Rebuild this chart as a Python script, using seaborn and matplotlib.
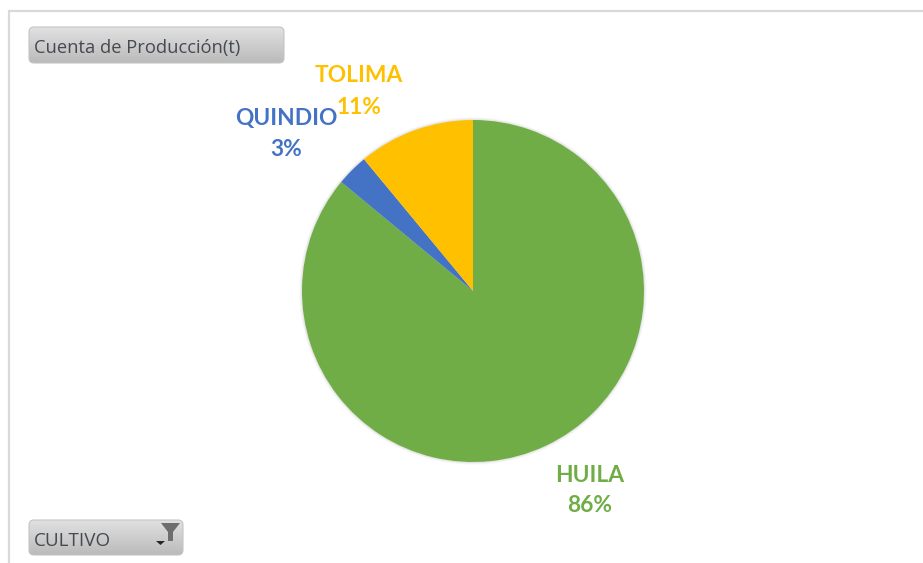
import numpy as np
import matplotlib
matplotlib.use("Agg")
import matplotlib.pyplot as plt
from matplotlib.patches import FancyBboxPatch, Polygon, Circle
import seaborn as sns

departments = ["HUILA", "QUINDIO", "TOLIMA"]
shares = [86, 3, 11]
slice_colors = ["#70AD47", "#4472C4", "#FFC000"]
field_button = "Cuenta de Producción(t)"
filter_button = "CULTIVO"

W, H = 923, 563
sns.set_theme(style="white")
plt.rcParams["font.family"] = ["Lato", "DejaVu Sans"]

fig = plt.figure(figsize=(W / 100, H / 100), dpi=100, facecolor="white")

# Overlay in pixel units for the frame and the pivot field buttons
ui = fig.add_axes([0, 0, 1, 1], zorder=3)
ui.set_xlim(0, W)
ui.set_ylim(H, 0)
ui.axis("off")
ui.plot([9, 9, W], [H, 11, 11], color="#D9D9D9", lw=1.6, solid_joinstyle="miter")


def button(x0, y0, x1, y1, label, size):
    box = FancyBboxPatch((x0, y0), x1 - x0, y1 - y0,
                         boxstyle="round,pad=0,rounding_size=5",
                         fc="none", ec="#C4C4C4", lw=0.8, zorder=4)
    ui.add_patch(box)
    shade = np.linspace(0.88, 0.73, 64).reshape(-1, 1)
    img = ui.imshow(shade, cmap="gray", vmin=0, vmax=1, extent=(x0, x1, y1, y0),
                    aspect="auto", zorder=3, interpolation="bilinear")
    img.set_clip_path(box)
    ui.text(x0 + 5, (y0 + y1) / 2 + 3, label, family="Open Sans", fontsize=size,
            color="#454A50", va="center", ha="left", zorder=5)


button(29, 27, 284, 63, field_button, 13.2)
button(29, 520, 183, 555, filter_button, 13.6)
ui.set_xlim(0, W)
ui.set_ylim(H, 0)

# Filter icon and dropdown arrow on the lower button
ui.add_patch(Polygon([(161, 523), (180, 523), (173, 532), (173, 541), (168, 541), (168, 532)],
                     closed=True, fc="#6E6E6E", ec="none", zorder=5))
ui.add_patch(Polygon([(156, 541), (165, 541), (160.5, 545)], closed=True,
                     fc="#262626", ec="none", zorder=5))

# Pie axes: a square region around the circle
cx, cy, r = 473, 291, 171
span = r * 1.02
pie_ax = fig.add_axes([(cx - span) / W, 1 - (cy + span) / H, 2 * span / W, 2 * span / H])

# Soft halo around the pie
for grow, alpha in [(1.016, 0.05), (1.010, 0.07), (1.005, 0.10)]:
    pie_ax.add_patch(Circle((0, 0), grow, fc="#808080", ec="none", alpha=alpha, zorder=0))

pie_ax.pie(shares, colors=slice_colors, startangle=90, counterclock=False,
           radius=1, wedgeprops={"linewidth": 0, "zorder": 2})
pie_ax.set_xlim(-1.02, 1.02)
pie_ax.set_ylim(-1.02, 1.02)

# Category and percentage labels
label_pos = {"HUILA": (589.5, 476, 506), "QUINDIO": (286.5, 119, 150), "TOLIMA": (359, 76, 107)}
for name, share, color in zip(departments, shares, slice_colors):
    x, y_name, y_pct = label_pos[name]
    ui.text(x, y_name, name, color=color, fontsize=16.4, fontweight="bold",
            ha="center", va="center", zorder=6)
    ui.text(x, y_pct, f"{share}%", color=color, fontsize=16.4, fontweight="bold",
            ha="center", va="center", zorder=6)

fig.savefig("out.png", dpi=100, facecolor="white")
